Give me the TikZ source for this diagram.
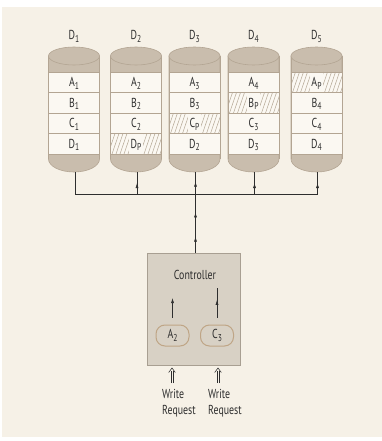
\documentclass[tikz,border=0pt]{standalone}
\usepackage{fontspec}
\setmainfont{PT Sans}[FakeStretch=0.76]
\usetikzlibrary{arrows.meta,decorations.markings}

\definecolor{paper}{HTML}{F6F1E7}
\definecolor{cap}{HTML}{C9BDAD}
\definecolor{capline}{HTML}{B3A593}
\definecolor{rowfill}{HTML}{FBF8F2}
\definecolor{ctrlfill}{HTML}{D8D1C5}
\definecolor{ctrlline}{HTML}{A89F92}
\definecolor{pillline}{HTML}{BFA586}
\definecolor{ink}{HTML}{2E2E2E}
\definecolor{hatchcol}{HTML}{B4A794}

% lowered index, as in D_1 or A_P
\newcommand\lowidx[1]{\raisebox{-2.4pt}{\fontsize{10}{10}\selectfont #1}}

% one disk of the array:
% #1 centre x, #2 name, #3 title, #4-#7 strip labels, #8 parity strip (0 = none)
\newcommand\raiddisk[8]{%
  \begin{scope}[shift={(#1,0)}]
    \filldraw[fill=cap,draw=capline,line width=0.6pt]
      (-25.5,56) -- (-25.5,159)
      arc[start angle=180,end angle=360,x radius=25.5pt,y radius=13pt]
      -- (25.5,56) -- cycle;
    \fill[rowfill] (-25.5,72) rectangle (25.5,154);
    \ifnum#8>0
      \pgfmathsetmacro\rtop{72+20.5*(#8-1)}
      \pgfmathsetmacro\rbot{\rtop+20.5}
      \begin{scope}
        \clip (-25.5,\rtop) rectangle (25.5,\rbot);
        \foreach \h in {-40,-36,...,36}
          \draw[hatchline] (\h,\rbot) -- (\h+7,\rtop);
      \end{scope}
    \fi
    \foreach \r in {72,92.5,113,133.5,154}
      \draw[capline,line width=0.6pt] (-25.5,\r) -- (25.5,\r);
    \draw[capline,line width=0.6pt] (-25.5,56) -- (-25.5,159) (25.5,56) -- (25.5,159);
    \filldraw[fill=cap,draw=capline,line width=0.6pt] (0,56) ellipse[x radius=25.5pt,y radius=9pt];
    \node[disklab] (#2) at (0,40) {#3};
    \node[rowlab] (#2a) at (0,86.75) {#4};
    \node[rowlab] (#2b) at (0,107.25) {#5};
    \node[rowlab] (#2c) at (0,127.75) {#6};
    \node[rowlab] (#2d) at (0,148.25) {#7};
    \coordinate (#2bot) at (1,172);
  \end{scope}}

% a hollow double arrow pointing up from #1 to #2
\newcommand\requestarrow[2]{%
  \foreach \s in {-1.1,1.1}
    \draw[reqline] ([xshift=\s pt]#1) -- ([xshift=\s pt,yshift=-2.5pt]#2);
  \draw[reqline] ([xshift=-3.3pt,yshift=-4.5pt]#2) -- (#2) -- ([xshift=3.3pt,yshift=-4.5pt]#2);}

\begin{document}
\begin{tikzpicture}[x=1pt,y=-1pt,
  every node/.style={font=\fontsize{13}{16}\selectfont,text=ink},
  disklab/.style={anchor=base,inner sep=0pt},
  rowlab/.style={anchor=base,inner ysep=0pt,inner xsep=1.5pt,
                 text height=14pt,text depth=5.5pt,fill=rowfill},
  hatchline/.style={hatchcol,line width=0.5pt},
  wire/.style={ink,line width=0.6pt},
  tip/.style={-{Latex[length=5pt,width=3pt]}},
  upat/.style={decoration={markings,
      mark=at position #1 with {\arrow{Latex[length=5pt,width=3pt]}}},
      postaction=decorate},
  ctrlbox/.style={fill=ctrlfill,draw=ctrlline,line width=0.5pt,
                  minimum width=93pt,minimum height=112pt,inner sep=0pt},
  pill/.style={fill=ctrlfill,draw=pillline,line width=1pt,rounded corners=9pt,
               minimum width=33pt,minimum height=21pt,inner sep=0pt},
  reqline/.style={ink,line width=0.55pt,line join=miter},
  reqlab/.style={anchor=north west,align=left,inner sep=0pt}]

  \useasboundingbox (0,0) rectangle (382,441);
  \fill[white] (0,0) rectangle (382,441);
  \fill[paper] (2,7) rectangle (382,437);

  % the five disks
  \raiddisk{74}{d1}{D\lowidx{1}}{A\lowidx{1}}{B\lowidx{1}}{C\lowidx{1}}{D\lowidx{1}}{0}
  \raiddisk{136}{d2}{D\lowidx{2}}{A\lowidx{2}}{B\lowidx{2}}{C\lowidx{2}}{D\lowidx{P}}{4}
  \raiddisk{194.5}{d3}{D\lowidx{3}}{A\lowidx{3}}{B\lowidx{3}}{C\lowidx{P}}{D\lowidx{2}}{3}
  \raiddisk{253.5}{d4}{D\lowidx{4}}{A\lowidx{4}}{B\lowidx{P}}{C\lowidx{3}}{D\lowidx{3}}{2}
  \raiddisk{316.5}{d5}{D\lowidx{5}}{A\lowidx{P}}{B\lowidx{4}}{C\lowidx{4}}{D\lowidx{4}}{1}

  % controller
  \node[ctrlbox] (ctrl) at (193.5,309) {};
  \node[anchor=base,inner sep=0pt] (ctrllab) at (195,279) {Controller};
  \node[pill] (pa) at (172.5,335.5) {A\lowidx{2}};
  \node[pill] (pc) at (217,335.5) {C\lowidx{3}};

  % bus
  \coordinate (busL) at (75,194);
  \draw[wire] (d1bot) -- (d1bot |- busL) -- (d5bot |- busL);
  \draw[wire,upat=0.5] (d2bot |- busL) -- (d2bot);
  \draw[wire,upat=0.5] (d4bot |- busL) -- (d4bot);
  \draw[wire,upat=0.5] (d5bot |- busL) -- (d5bot);
  \draw[wire,
    decoration={markings,
      mark=at position 0.2 with {\arrow{Latex[length=5pt,width=3pt]}},
      mark=at position 0.5 with {\arrow{Latex[length=5pt,width=3pt]}},
      mark=at position 0.88 with {\arrow{Latex[length=5pt,width=3pt]}}},
    postaction=decorate]
    (d3bot |- ctrl.north) -- (d3bot);

  % updates leaving the controller
  \coordinate (pa-up) at (172.5,298);
  \coordinate (pc-up) at (217,288);
  \draw[wire,tip] ([yshift=7pt]pa.north) -- (pa-up);
  \draw[wire,upat=0.6] ([yshift=7pt]pc.north) -- (pc-up);

  % write requests
  \node[reqlab] (wr1) at (162,389) {Write\\Request};
  \node[reqlab] (wr2) at (208,389) {Write\\Request};
  \coordinate (rq1) at (172,383);
  \coordinate (rq2) at (218,383);
  \coordinate (rq1top) at (172,368);
  \coordinate (rq2top) at (218,368);
  \requestarrow{rq1}{rq1top}
  \requestarrow{rq2}{rq2top}
\end{tikzpicture}
\end{document}
